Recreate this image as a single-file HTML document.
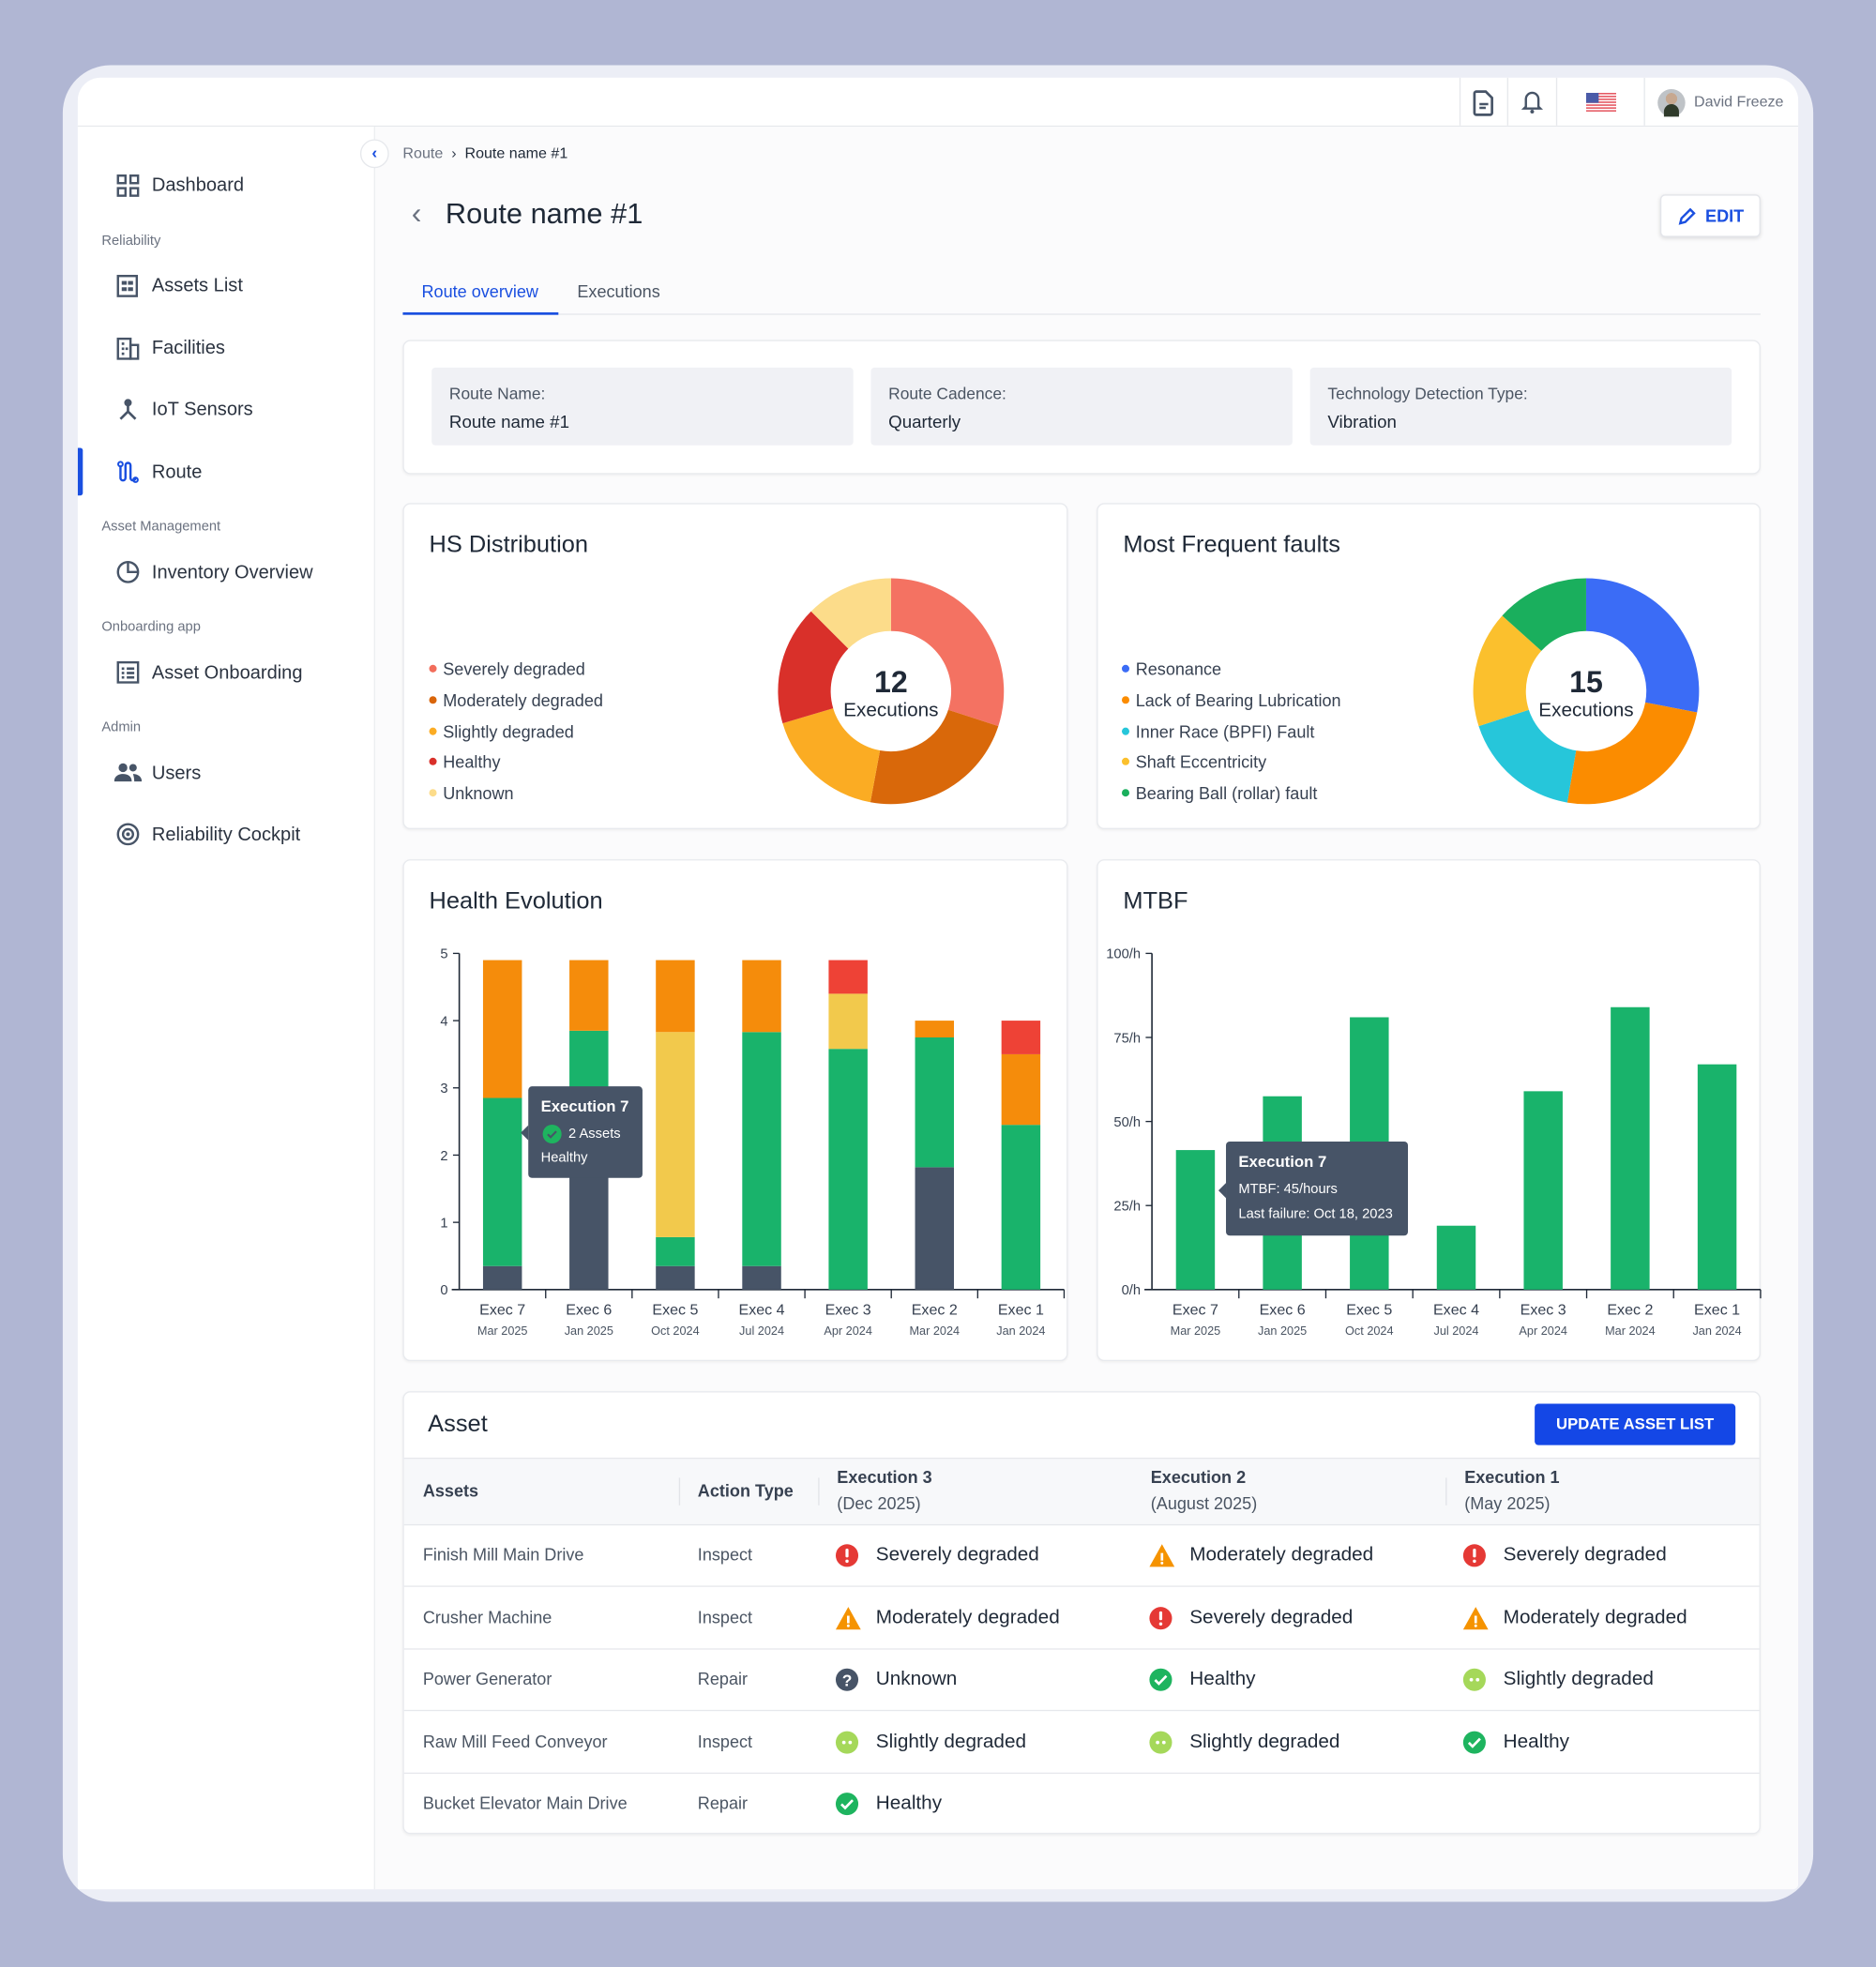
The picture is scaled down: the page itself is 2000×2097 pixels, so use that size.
<!DOCTYPE html>
<html><head><meta charset="utf-8">
<style>
*{box-sizing:border-box;margin:0;padding:0}
html,body{width:2000px;height:2097px;overflow:hidden;background:#b0b6d3;font-family:"Liberation Sans",sans-serif;color:#1f2937}
#root{position:absolute;left:0;top:0;width:1495px;height:1568px;transform:scale(1.33779,1.33737);transform-origin:0 0}
.abs{position:absolute}
.frame{left:50px;top:52px;width:1395px;height:1464px;border-radius:38px;background:#eceef6}
.inner{left:62px;top:62px;width:1371px;height:1444px;background:#fbfbfc;border-radius:18px 18px 4px 8px;overflow:hidden}
.top{left:62px;top:62px;width:1371px;height:39px;background:#fff;border-bottom:1px solid #e6e8ec;border-radius:18px 18px 0 0}
.side{left:62px;top:101px;width:237px;height:1405px;background:#fff;border-right:1px solid #eceef1}
.nav{position:absolute;left:121px;font-size:15px;color:#2b3340}
.ico{position:absolute;left:93px;width:18px;height:18px}
.sec{position:absolute;left:81px;font-size:11px;color:#6b7280}
.card{position:absolute;background:#fff;border:1px solid #e8eaee;border-radius:6px;box-shadow:0 1px 2px rgba(0,0,0,.05)}
.ctitle{position:absolute;font-size:19px;color:#1f2937}
.leg{position:absolute;font-size:13.5px;color:#374151}
.leg i{display:inline-block;width:6px;height:6px;border-radius:50%;margin-right:5px;vertical-align:2px}
.ib{position:absolute;top:293px;width:336px;height:62px;background:#f0f1f5;border-radius:3px}
.ib .l{position:absolute;left:14px;top:13px;font-size:13px;color:#4b5563}
.ib .v{position:absolute;left:14px;top:35px;font-size:14px;color:#1f2937}
.tip{position:absolute;background:#475467;border-radius:3px;color:#fff;font-size:11px}
.th{position:absolute;font-size:13.5px;font-weight:bold;color:#374151}
.td{position:absolute;font-size:13.5px;color:#4b5563}
.st{position:absolute;font-size:15.5px;color:#1f2937}
.st svg{position:absolute;left:-33px;top:-1px}
.hl{position:absolute;left:322px;width:1080px;height:1px;background:#e6e8ec}
</style></head><body>
<div id="root">
<div class="abs frame"></div>
<div class="abs inner"></div>
<div class="abs top">
  <div class="abs" style="left:1101px;top:0;width:1px;height:38px;background:#e6e8ec"></div>
  <div class="abs" style="left:1139px;top:0;width:1px;height:38px;background:#e6e8ec"></div>
  <div class="abs" style="left:1178px;top:0;width:1px;height:38px;background:#e6e8ec"></div>
  <div class="abs" style="left:1248px;top:0;width:1px;height:38px;background:#e6e8ec"></div>
  <svg class="abs" style="left:1111px;top:9px" width="18" height="22" viewBox="0 0 18 22"><path d="M3 2h8l5 5v12a1.5 1.5 0 0 1-1.5 1.5h-11A1.5 1.5 0 0 1 2 19V3.5A1.5 1.5 0 0 1 3.5 2z" fill="none" stroke="#475467" stroke-width="2"/><path d="M6 12h7M6 15h5" stroke="#475467" stroke-width="1.8"/></svg>
  <svg class="abs" style="left:1150px;top:9px" width="18" height="20" viewBox="0 0 18 20"><path d="M4 14V8a5 5 0 0 1 10 0v6l1.5 1.5h-13z" fill="none" stroke="#475467" stroke-width="1.8"/><circle cx="9" cy="18" r="1.5" fill="#475467"/></svg>
  <svg class="abs" style="left:1202px;top:12px" width="24" height="15" viewBox="0 0 24 15"><rect width="24" height="15" fill="#fff"/><g fill="#e65a64"><rect y="0" width="24" height="1.2"/><rect y="2.3" width="24" height="1.2"/><rect y="4.6" width="24" height="1.2"/><rect y="6.9" width="24" height="1.2"/><rect y="9.2" width="24" height="1.2"/><rect y="11.5" width="24" height="1.2"/><rect y="13.8" width="24" height="1.2"/></g><rect width="10" height="8" fill="#4a5ba8"/></svg>
  <div class="abs" style="left:1259px;top:9px;width:22px;height:22px;border-radius:50%;background:radial-gradient(circle at 50% 35%,#c7a890 0 25%,#bfc3c7 26% 100%)"><div class="abs" style="left:5px;top:12px;width:12px;height:10px;border-radius:6px 6px 0 0;background:#2f3a2a"></div></div>
  <div class="abs" style="left:1288px;top:12px;font-size:12px;color:#6b7280">David Freeze</div>
</div>
<div class="abs side"></div>
<div class="abs" style="left:62px;top:357px;width:4px;height:38px;background:#1a4fe0;border-radius:0 2px 2px 0"></div>
<svg class="ico" style="top:139px" viewBox="0 0 18 18"><g fill="none" stroke="#475467" stroke-width="1.8"><rect x="1" y="1" width="6" height="6"/><rect x="11" y="1" width="6" height="6"/><rect x="1" y="11" width="6" height="6"/><rect x="11" y="11" width="6" height="6"/></g></svg>
<div class="nav" style="top:139px">Dashboard</div>
<div class="sec" style="top:186px">Reliability</div>
<svg class="ico" style="top:219px" viewBox="0 0 18 18"><rect x="1" y="1" width="15" height="16" fill="none" stroke="#475467" stroke-width="1.8"/><rect x="4" y="5" width="4" height="3" fill="#475467"/><rect x="9" y="5" width="4" height="3" fill="#475467"/><rect x="4" y="10" width="4" height="3" fill="#475467"/><rect x="9" y="10" width="4" height="3" fill="#475467"/></svg>
<div class="nav" style="top:219px">Assets List</div>
<svg class="ico" style="top:269px" viewBox="0 0 18 18"><rect x="1" y="1" width="10" height="16" fill="none" stroke="#475467" stroke-width="1.8"/><rect x="11" y="6" width="6" height="11" fill="none" stroke="#475467" stroke-width="1.8"/><g fill="#475467"><rect x="4" y="4" width="2" height="2"/><rect x="4" y="8" width="2" height="2"/><rect x="4" y="12" width="2" height="2"/><rect x="7" y="8" width="2" height="2"/></g></svg>
<div class="nav" style="top:269px">Facilities</div>
<svg class="ico" style="top:318px" viewBox="0 0 18 18"><g stroke="#475467" stroke-width="2" fill="#475467"><circle cx="9" cy="3" r="2"/><path d="M9 5v5M9 10l-6 6M9 10l6 6"/></g></svg>
<div class="nav" style="top:318px">IoT Sensors</div>
<svg class="ico" style="top:367px" viewBox="0 0 18 18"><path d="M3 4v10a2 2 0 0 0 4 0V4a2 2 0 0 1 4 0v10a2 2 0 0 0 4 0" fill="none" stroke="#1a4fe0" stroke-width="1.8"/><circle cx="3" cy="3" r="1.8" fill="none" stroke="#1a4fe0" stroke-width="1.5"/><circle cx="15" cy="15.5" r="1.8" fill="none" stroke="#1a4fe0" stroke-width="1.5"/></svg>
<div class="nav" style="top:368px">Route</div>
<div class="sec" style="top:414px">Asset Management</div>
<svg class="ico" style="top:447px" viewBox="0 0 18 18"><circle cx="9" cy="9" r="8" fill="none" stroke="#475467" stroke-width="1.8"/><path d="M9 1v8h8" fill="none" stroke="#475467" stroke-width="1.8"/></svg>
<div class="nav" style="top:448px">Inventory Overview</div>
<div class="sec" style="top:494px">Onboarding app</div>
<svg class="ico" style="top:527px" viewBox="0 0 18 18"><rect x="1" y="1" width="16" height="16" fill="none" stroke="#475467" stroke-width="1.8"/><g fill="#475467"><rect x="4" y="5" width="2" height="2"/><rect x="8" y="5" width="6" height="2"/><rect x="4" y="8.5" width="2" height="2"/><rect x="8" y="8.5" width="6" height="2"/><rect x="4" y="12" width="2" height="2"/><rect x="8" y="12" width="6" height="2"/></g></svg>
<div class="nav" style="top:528px">Asset Onboarding</div>
<div class="sec" style="top:574px">Admin</div>
<svg class="ico" style="top:607px;width:22px;left:91px" viewBox="0 0 22 18"><g fill="#475467"><circle cx="7" cy="5" r="3.5"/><circle cx="15" cy="5" r="3"/><path d="M0 16c0-4 3-6 7-6s7 2 7 6z"/><path d="M15 10c3 0 7 1.5 7 6h-6c0-2.5-.5-4.5-1-6z"/></g></svg>
<div class="nav" style="top:608px">Users</div>
<svg class="ico" style="top:656px" viewBox="0 0 18 18"><circle cx="9" cy="9" r="8" fill="none" stroke="#475467" stroke-width="1.8"/><circle cx="9" cy="9" r="4" fill="none" stroke="#475467" stroke-width="1.8"/><circle cx="9" cy="9" r="1.5" fill="#475467"/></svg>
<div class="nav" style="top:657px">Reliability Cockpit</div>

<div class="abs" style="left:287px;top:111px;width:23px;height:23px;border-radius:50%;background:#fff;border:1px solid #e6e8ec;color:#1a4fe0;font-size:13px;text-align:center;line-height:20px;font-weight:bold">‹</div>
<div class="abs" style="left:321px;top:115px;font-size:12px;color:#6b7280">Route &nbsp;<span style="color:#374151">›</span>&nbsp; <span style="color:#1f2937">Route name #1</span></div>
<div class="abs" style="left:328px;top:157px;font-size:24px;color:#6b7280">‹</div>
<div class="abs" style="left:355px;top:157px;font-size:23px;color:#1f2937">Route name #1</div>
<div class="abs" style="left:1323px;top:155px;width:80px;height:34px;background:#fff;border:1px solid #e3e5ea;border-radius:4px;box-shadow:0 1px 3px rgba(0,0,0,.12)">
  <svg class="abs" style="left:13px;top:9px" width="15" height="15" viewBox="0 0 15 15"><path d="M2 13l1-4 7-7 3 3-7 7z" fill="none" stroke="#1a4fe0" stroke-width="1.8"/></svg>
  <div class="abs" style="left:35px;top:9px;font-size:13.5px;font-weight:bold;color:#1a4fe0">EDIT</div>
</div>
<div class="abs" style="left:336px;top:225px;font-size:13.5px;color:#1a4fe0">Route overview</div>
<div class="abs" style="left:460px;top:225px;font-size:13.5px;color:#4b5563">Executions</div>
<div class="abs" style="left:321px;top:250px;width:1082px;height:1px;background:#e6e8ec"></div>
<div class="abs" style="left:321px;top:249px;width:124px;height:2px;background:#1a4fe0"></div>

<div class="card" style="left:321px;top:271px;width:1082px;height:107px"></div>
<div class="ib" style="left:344px"><div class="l">Route Name:</div><div class="v">Route name #1</div></div>
<div class="ib" style="left:694px"><div class="l">Route Cadence:</div><div class="v">Quarterly</div></div>
<div class="ib" style="left:1044px"><div class="l">Technology Detection Type:</div><div class="v">Vibration</div></div>

<div class="card" style="left:321px;top:401px;width:530px;height:260px"></div>
<div class="ctitle" style="left:342px;top:424px">HS Distribution</div>
<div id="hsLegend"></div>
<div class="card" style="left:874px;top:401px;width:529px;height:260px"></div>
<div class="ctitle" style="left:895px;top:424px">Most Frequent faults</div>
<div id="fLegend"></div>

<div class="card" style="left:321px;top:685px;width:530px;height:400px"></div>
<div class="ctitle" style="left:342px;top:708px">Health Evolution</div>
<div class="card" style="left:874px;top:685px;width:529px;height:400px"></div>
<div class="ctitle" style="left:895px;top:708px">MTBF</div>

<svg id="charts" class="abs" style="left:0;top:0" width="1495" height="1568" font-family="Liberation Sans, sans-serif"></svg>

<div class="tip" style="left:421px;top:866px;width:91px;height:73px">
  <div class="abs" style="left:-6px;top:31px;width:0;height:0;border:6px solid transparent;border-left:0;border-right-color:#475467"></div>
  <div class="abs" style="left:10px;top:9px;font-size:12.5px;font-weight:bold">Execution 7</div>
  <svg class="abs" style="left:11px;top:30px" width="16" height="16"><circle cx="8" cy="8" r="7.5" fill="#1eb45f"/><path d="M4.5 8.2l2.3 2.3 4.5-4.6" stroke="#475467" stroke-width="1.6" fill="none"/></svg>
  <div class="abs" style="left:32px;top:32px">2 Assets</div>
  <div class="abs" style="left:10px;top:51px">Healthy</div>
</div>
<div class="tip" style="left:977px;top:910px;width:145px;height:75px">
  <div class="abs" style="left:-6px;top:33px;width:0;height:0;border:6px solid transparent;border-left:0;border-right-color:#475467"></div>
  <div class="abs" style="left:10px;top:9px;font-size:12.5px;font-weight:bold">Execution 7</div>
  <div class="abs" style="left:10px;top:32px">MTBF: 45/hours</div>
  <div class="abs" style="left:10px;top:52px">Last failure: Oct 18, 2023</div>
</div>

<div class="card" style="left:321px;top:1109px;width:1082px;height:353px;overflow:hidden">
  <div class="abs" style="left:0;top:53px;width:1082px;height:52px;background:#f7f8fa"></div>
</div>
<div class="ctitle" style="left:341px;top:1125px">Asset</div>
<div class="abs" style="left:1223px;top:1119px;width:160px;height:33px;background:#1447e6;border-radius:3px;color:#fff;font-size:12.5px;font-weight:bold;text-align:center;line-height:33px">UPDATE ASSET LIST</div>
<div class="hl" style="top:1162px"></div>
<div class="abs" style="left:541px;top:1178px;width:1px;height:22px;background:#e2e4e8"></div>
<div class="abs" style="left:652px;top:1178px;width:1px;height:22px;background:#e2e4e8"></div>
<div class="abs" style="left:1152px;top:1178px;width:1px;height:22px;background:#e2e4e8"></div>
<div class="th" style="left:337px;top:1181px">Assets</div>
<div class="th" style="left:556px;top:1181px">Action Type</div>
<div class="th" style="left:667px;top:1170px">Execution 3<br><span style="font-weight:normal;color:#4b5563;line-height:28px">(Dec 2025)</span></div>
<div class="th" style="left:917px;top:1170px">Execution 2<br><span style="font-weight:normal;color:#4b5563;line-height:28px">(August 2025)</span></div>
<div class="th" style="left:1167px;top:1170px">Execution 1<br><span style="font-weight:normal;color:#4b5563;line-height:28px">(May 2025)</span></div>
<div id="tbl"></div>
</div>
<script>
// ---------- donut data ----------
const hsLabels=["Severely degraded","Moderately degraded","Slightly degraded","Healthy","Unknown"];
const hsLegendColors=["#f26d5b","#d9650a","#fbac23","#d9302a","#fcdc8a"];
const hsOrder=[0,1,2,3,4];
const hsSliceColors=["#f47262","#d9680a","#fbac23","#d9302a","#fcdc8a"];
const hsValues=[3.6,2.75,2.1,2.05,1.5];
const fLabels=["Resonance","Lack of Bearing Lubrication","Inner Race (BPFI) Fault","Shaft Eccentricity","Bearing Ball (rollar) fault"];
const fColors=["#3b6cf6","#fb8c00","#26c6da","#fbc02d","#1aaf5d"];
const fValues=[4.2,3.7,2.6,2.5,2.0];
// ---------- health evolution ----------
const execs=["Exec 7","Exec 6","Exec 5","Exec 4","Exec 3","Exec 2","Exec 1"];
const execDates=["Mar 2025","Jan 2025","Oct 2024","Jul 2024","Apr 2024","Mar 2024","Jan 2024"];
const heUnknown=[0.35,2.5,0.35,0.35,0,1.82,0];
const heHealthy=[2.5,1.35,0.43,3.48,3.58,1.93,2.45];
const heSlight=[0,0,3.05,0,0.82,0,0];
const heModerate=[2.05,1.05,1.07,1.07,0,0.25,1.05];
const heSevere=[0,0,0,0,0.5,0,0.5];
const heTicks=[0,1,2,3,4,5];
// ---------- MTBF ----------
const mtbfValues=[41.5,57.5,81,19,59,84,67];
const mtbfTicks=[0,25,50,75,100];

const NS="http://www.w3.org/2000/svg";
const svg=document.getElementById('charts');
function mk(tag,attrs,parent){const e=document.createElementNS(NS,tag);for(const k in attrs)e.setAttribute(k,attrs[k]);(parent||svg).appendChild(e);return e;}

function donut(cx,cy,ro,ri,vals,cols,total,name){
  const sum=vals.reduce((a,b)=>a+b,0);let a0=0;
  vals.forEach((v,i)=>{
    const a1=a0+v/sum*Math.PI*2;
    const p=(r,a)=>[cx+r*Math.sin(a),cy-r*Math.cos(a)];
    const [x1,y1]=p(ro,a0),[x2,y2]=p(ro,a1),[x3,y3]=p(ri,a1),[x4,y4]=p(ri,a0);
    const lg=(a1-a0)>Math.PI?1:0;
    const el=mk('path',{d:`M${x1},${y1}A${ro},${ro} 0 ${lg} 1 ${x2},${y2}L${x3},${y3}A${ri},${ri} 0 ${lg} 0 ${x4},${y4}Z`,fill:cols[i]});
    
    
    a0=a1;
  });
  const t=mk('text',{x:cx,y:cy+1,'text-anchor':'middle','font-size':24,'font-weight':'bold',fill:'#1f2937'});t.textContent=total;
  
  
  const t2=mk('text',{x:cx,y:cy+20,'text-anchor':'middle','font-size':15.5,fill:'#1f2937'});t2.textContent="Executions";
  
  
}
donut(710,551,90,48,hsValues,hsSliceColors,"12","hs-donut");
donut(1264,551,90,48,fValues,fColors,"15","faults-donut");

function legend(id,x,labels,cols){
  const box=document.getElementById(id);
  labels.forEach((l,i)=>{
    const d=document.createElement('div');d.className='leg';
    d.style.left=x+'px';d.style.top=(526+i*24.8)+'px';
    d.innerHTML='<i style="background:'+cols[i]+'"></i>'+l;
    
    
    box.appendChild(d);
  });
}
legend('hsLegend',342,hsLabels,hsLegendColors);
legend('fLegend',894,fLabels,fColors);

function axes(x0,x1,y0,y1,ticks,max,fmt,name){
  const ys=v=>y0-(v/max)*(y0-y1);
  const n=execs.length, step=(x1-x0)/n;
  mk('line',{x1:x0,y1:y1,x2:x0,y2:y0,stroke:'#1f2937','stroke-width':1.2});
  mk('line',{x1:x0-6,y1:y0,x2:x1,y2:y0,stroke:'#1f2937','stroke-width':1.2});
  ticks.forEach(t=>{
    mk('line',{x1:x0-5,y1:ys(t),x2:x0,y2:ys(t),stroke:'#1f2937'});
    const tx=mk('text',{x:x0-9,y:ys(t)+4,'text-anchor':'end','font-size':11,fill:'#374151'});tx.textContent=fmt(t);
    
    
  });
  for(let i=1;i<=n;i++) mk('line',{x1:x0+i*step,y1:y0,x2:x0+i*step,y2:y0+7,stroke:'#1f2937'});
  execs.forEach((e,i)=>{
    const cx=x0+(i+0.5)*step;
    const a=mk('text',{x:cx,y:y0+20,'text-anchor':'middle','font-size':12,fill:'#374151'});a.textContent=e;
    
    
    const b=mk('text',{x:cx,y:y0+36,'text-anchor':'middle','font-size':9.5,fill:'#4b5563'});b.textContent=execDates[i];
    
    
  });
  return {ys,step};
}
// health evolution stacked bars
(function(){
  const x0=366,x1=848,y0=1028,y1=760;
  const {ys,step}=axes(x0,x1,y0,y1,heTicks,5,t=>t,'health');
  const series=[[heUnknown,'#475467'],[heHealthy,'#19b36b'],[heSlight,'#f2c94c'],[heModerate,'#f58c0b'],[heSevere,'#ee4236']];
  execs.forEach((e,i)=>{
    let acc=0;const cx=x0+(i+0.5)*step;
    series.forEach(([arr,c])=>{
      const v=arr[i];if(v<=0)return;
      const r=mk('rect',{x:cx-15.5,y:ys(acc+v),width:31,height:ys(acc)-ys(acc+v),fill:c});
      
      
      acc+=v;
    });
  });
})();
// MTBF bars
(function(){
  const x0=918,x1=1403,y0=1028,y1=760;
  const {ys,step}=axes(x0,x1,y0,y1,mtbfTicks,100,t=>t+'/h','mtbf');
  mtbfValues.forEach((v,i)=>{
    const cx=x0+(i+0.5)*step;
    const r=mk('rect',{x:cx-15.5,y:ys(v),width:31,height:y0-ys(v),fill:'#19b36b'});
    
    
  });
})();

// ---------- table ----------
const assetNames=["Finish Mill Main Drive","Crusher Machine","Power Generator","Raw Mill Feed Conveyor","Bucket Elevator Main Drive"];
const actions=["Inspect","Inspect","Repair","Inspect","Repair"];
const statusExec3=["sev","mod","unk","sli","hea"];
const statusExec2=["mod","sev","hea","sli",""];
const statusExec1=["sev","mod","sli","hea",""];
const statusText={sev:"Severely degraded",mod:"Moderately degraded",unk:"Unknown",sli:"Slightly degraded",hea:"Healthy"};
const icons={
 sev:'<svg width="20" height="20"><circle cx="10" cy="10" r="9" fill="#e53935"/><rect x="8.8" y="4.5" width="2.4" height="7" rx="1" fill="#fff"/><circle cx="10" cy="14.5" r="1.3" fill="#fff"/></svg>',
 mod:'<svg width="22" height="20"><path d="M11 1L21 19H1z" fill="#f59300"/><rect x="10" y="8" width="2" height="6" fill="#fff"/><circle cx="11" cy="16" r="1.1" fill="#fff"/></svg>',
 unk:'<svg width="20" height="20"><circle cx="10" cy="10" r="9" fill="#475467"/><text x="10" y="15" text-anchor="middle" font-size="13" font-weight="bold" fill="#fff" font-family="Liberation Sans">?</text></svg>',
 hea:'<svg width="20" height="20"><circle cx="10" cy="10" r="9" fill="#1eb45f"/><path d="M5.5 10.2l3 3 6-6.2" stroke="#fff" stroke-width="2" fill="none"/></svg>',
 sli:'<svg width="20" height="20"><circle cx="10" cy="10" r="9" fill="#a5d85a"/><circle cx="7.5" cy="10" r="1.4" fill="#fff"/><circle cx="12.5" cy="10" r="1.4" fill="#fff"/></svg>'
};
const tbl=document.getElementById('tbl');
assetNames.forEach((n,i)=>{
  const cy=1240+i*49.6;
  const hl=document.createElement('div');hl.className='hl';hl.style.top=(cy-25.5)+'px';tbl.appendChild(hl);
  const a=document.createElement('div');a.className='td';a.style.left='337px';a.style.top=(cy-8)+'px';a.textContent=n;
  
  
  tbl.appendChild(a);
  const b=document.createElement('div');b.className='td';b.style.left='556px';b.style.top=(cy-8)+'px';b.textContent=actions[i];
  
  
  tbl.appendChild(b);
  [[statusExec3,698],[statusExec2,948],[statusExec1,1198]].forEach(([arr,x])=>{
    const s=arr[i];if(!s)return;
    const d=document.createElement('div');d.className='st';d.style.left=x+'px';d.style.top=(cy-9)+'px';
    d.innerHTML=icons[s]+statusText[s];
    
    
    tbl.appendChild(d);
  });
});
</script>
</body></html>
